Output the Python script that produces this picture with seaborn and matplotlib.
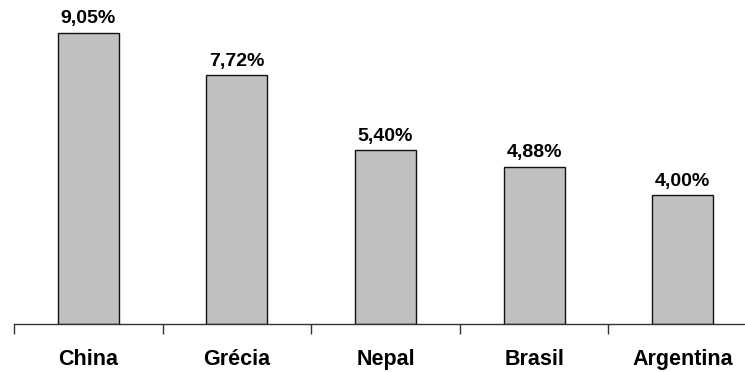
import matplotlib.pyplot as plt
import seaborn as sns
from matplotlib.ticker import FixedLocator

# data
paises = ["China", "Grécia", "Nepal", "Brasil", "Argentina"]
taxas = [9.05, 7.72, 5.40, 4.88, 4.00]

sns.set_style("white")
plt.rcParams["font.family"] = ["Liberation Sans", "DejaVu Sans"]

fig = plt.figure(figsize=(7.45, 3.72), dpi=100)
# axes runs slightly past the right edge, like the original
ax = fig.add_axes([14 / 745, 48 / 372, 743 / 745, 322 / 372])

sns.barplot(x=paises, y=taxas, color="#c0c0c0", edgecolor="#111111",
            linewidth=1.0, width=0.41, saturation=1, ax=ax)

ax.set_xlim(-0.5, 4.5)
ax.set_ylim(0, 10)

for i, v in enumerate(taxas):
    txt = f"{v:.2f}".replace(".", ",") + "%"
    ax.annotate(txt, (i, v), xytext=(0, 4), textcoords="offset points",
                ha="center", va="bottom", fontsize=14, fontweight="bold",
                color="black")

sns.despine(ax=ax, left=True, top=True, right=True)
ax.spines["bottom"].set_color("#333333")
ax.spines["bottom"].set_linewidth(1.0)
ax.set_yticks([])

ax.xaxis.set_minor_locator(FixedLocator([-0.5, 0.5, 1.5, 2.5, 3.5, 4.5]))
ax.tick_params(axis="x", which="major", length=0, pad=18, labelsize=15.5,
               labelcolor="black")
ax.tick_params(axis="x", which="minor", length=7, width=1.0,
               direction="out", color="#333333", bottom=True)
for lbl in ax.get_xticklabels():
    lbl.set_fontweight("bold")

plt.savefig("out.png", dpi=100)
